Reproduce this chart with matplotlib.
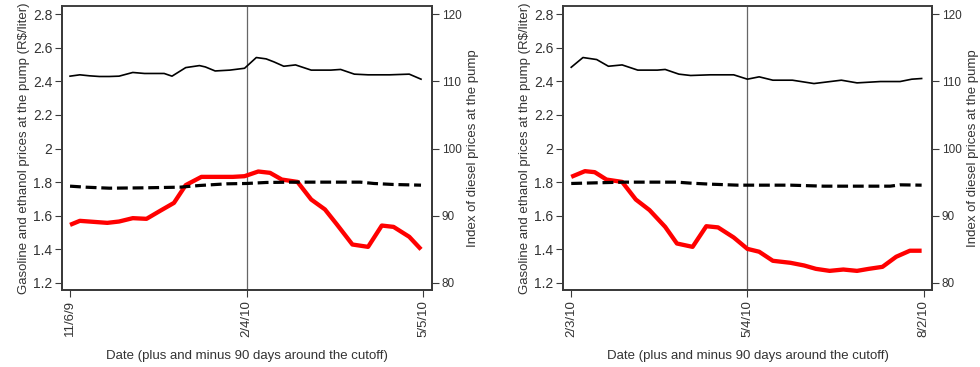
import matplotlib
matplotlib.use("Agg")
import matplotlib.pyplot as plt
import numpy as np

plt.rcParams["font.family"] = ["Liberation Sans", "DejaVu Sans"]

# ---- Panel 1: cutoff 2/4/10 -------------------------------------------
p1_ticklabels = ["11/6/9", "2/4/10", "5/5/10"]

p1_gas_days = [-90, -85, -80, -75, -70, -65, -58, -52, -42, -38, -31, -24, -21, -16,
               -8.5, -1, 5, 10, 14, 19, 25, 33, 43, 48, 55, 62, 73, 83, 89]
p1_gas = [2.431, 2.439, 2.433, 2.429, 2.429, 2.431, 2.453, 2.447, 2.447, 2.431, 2.482,
          2.494, 2.486, 2.462, 2.467, 2.478, 2.542, 2.534, 2.516, 2.490, 2.498, 2.467,
          2.467, 2.471, 2.443, 2.439, 2.439, 2.443, 2.413]

p1_eth_days = [-90, -85, -78, -71, -65, -58, -51, -44, -37, -31, -23, -15, -7, -1, 6,
               12, 18, 26, 33, 40, 46, 54, 62, 69, 75, 83, 89]
p1_eth = [1.545, 1.569, 1.563, 1.557, 1.565, 1.585, 1.581, 1.629, 1.676, 1.782, 1.831,
          1.831, 1.831, 1.835, 1.863, 1.855, 1.815, 1.801, 1.696, 1.637, 1.549, 1.428,
          1.414, 1.541, 1.533, 1.474, 1.399]

p1_dsl_days = [-90, -82, -70, -53, -34, -24, -10, 0, 10, 24, 44, 58, 65, 75, 89]
p1_dsl = [94.39, 94.24, 94.09, 94.14, 94.24, 94.49, 94.74, 94.79, 94.94, 94.99, 94.99,
          94.99, 94.79, 94.64, 94.54]

# ---- Panel 2: cutoff 5/4/10 -------------------------------------------
p2_ticklabels = ["2/3/10", "5/4/10", "8/2/10"]

p2_gas_days = [-90, -84, -77, -71, -64, -56, -46, -42, -35, -29, -19, -7, 0, 6, 13,
               23, 34, 48, 56, 68, 78, 84, 89]
p2_gas = [2.484, 2.542, 2.530, 2.490, 2.498, 2.467, 2.467, 2.471, 2.443, 2.435, 2.439,
          2.439, 2.413, 2.427, 2.407, 2.407, 2.387, 2.407, 2.391, 2.399, 2.399, 2.413,
          2.417]

p2_eth_days = [-90, -83, -78, -72, -64, -57, -50, -42, -36, -28, -21, -15, -7, 0, 6,
               13, 22, 29, 35, 42, 49, 56, 62, 69, 76, 83, 89]
p2_eth = [1.831, 1.865, 1.859, 1.815, 1.801, 1.696, 1.633, 1.533, 1.434, 1.414, 1.537,
          1.530, 1.470, 1.402, 1.385, 1.331, 1.319, 1.303, 1.283, 1.271, 1.279, 1.271,
          1.283, 1.295, 1.355, 1.391, 1.391]

p2_dsl_days = [-90, -77, -63, -36, -29, -19, -5, 22, 39, 73, 78, 89]
p2_dsl = [94.79, 94.89, 94.99, 94.99, 94.84, 94.69, 94.54, 94.54, 94.39, 94.39, 94.59,
          94.54]

panels = [
    dict(ticklabels=p1_ticklabels, gas_days=p1_gas_days, gas=p1_gas,
         eth_days=p1_eth_days, eth=p1_eth, dsl_days=p1_dsl_days, dsl=p1_dsl,
         rect=[62 / 980, 77 / 367, 370 / 980, 284 / 367], xlim=(-94.1, 94.6)),
    dict(ticklabels=p2_ticklabels, gas_days=p2_gas_days, gas=p2_gas,
         eth_days=p2_eth_days, eth=p2_eth, dsl_days=p2_dsl_days, dsl=p2_dsl,
         rect=[563 / 980, 77 / 367, 369 / 980, 284 / 367], xlim=(-94.2, 94.3)),
]

tick_days = [-90, 0, 90]
left_ticks = [1.2, 1.4, 1.6, 1.8, 2.0, 2.2, 2.4, 2.6, 2.8]
left_ticklabels = ["1.2", "1.4", "1.6", "1.8", "2", "2.2", "2.4", "2.6", "2.8"]
right_ticks = [80, 90, 100, 110, 120]

text_col = "#333333"
frame_col = "#3a3a3a"
ylo, yhi = 1.157, 2.849

fig = plt.figure(figsize=(9.8, 3.67), dpi=100)

for p in panels:
    ax = fig.add_axes(p["rect"])
    ax2 = ax.twinx()

    ax.axvline(0, color="#666666", lw=0.9, zorder=1)
    ax.plot(p["gas_days"], p["gas"], color="black", lw=1.2, zorder=3)
    ax.plot(p["eth_days"], p["eth"], color="#ff0000", lw=3.1, zorder=3,
            solid_capstyle="butt")
    ax2.plot(p["dsl_days"], p["dsl"], color="black", lw=2.3,
             linestyle=(0, (3.4, 1.5)), zorder=3)

    ax.set_xlim(*p["xlim"])
    ax.set_ylim(ylo, yhi)
    ax2.set_ylim(80 + (ylo - 1.2) * 25, 80 + (yhi - 1.2) * 25)

    ax.set_xticks(tick_days)
    ax.set_xticklabels(p["ticklabels"], rotation=90, fontsize=9.5, color=text_col)
    ax.set_yticks(left_ticks)
    ax.set_yticklabels(left_ticklabels, fontsize=10, color=text_col)
    ax2.set_yticks(right_ticks)
    ax2.set_yticklabels([str(v) for v in right_ticks], fontsize=8.5, color=text_col)

    for a in (ax, ax2):
        a.tick_params(direction="out", length=5, width=0.8, color=frame_col, pad=2)
        for s in a.spines.values():
            s.set_color(frame_col)
            s.set_linewidth(1.3)
    ax.spines["top"].set_color("#9a9a9a")

    ax.set_ylabel("Gasoline and ethanol prices at the pump (R$/liter)",
                  fontsize=9.5, color=text_col, labelpad=2)
    ax2.set_ylabel("Index of diesel prices at the pump", fontsize=9.5,
                   color=text_col, labelpad=4)
    ax.set_xlabel("Date (plus and minus 90 days around the cutoff)",
                  fontsize=9.5, color=text_col, labelpad=10)

fig.savefig("out.png", dpi=100, facecolor="white")
